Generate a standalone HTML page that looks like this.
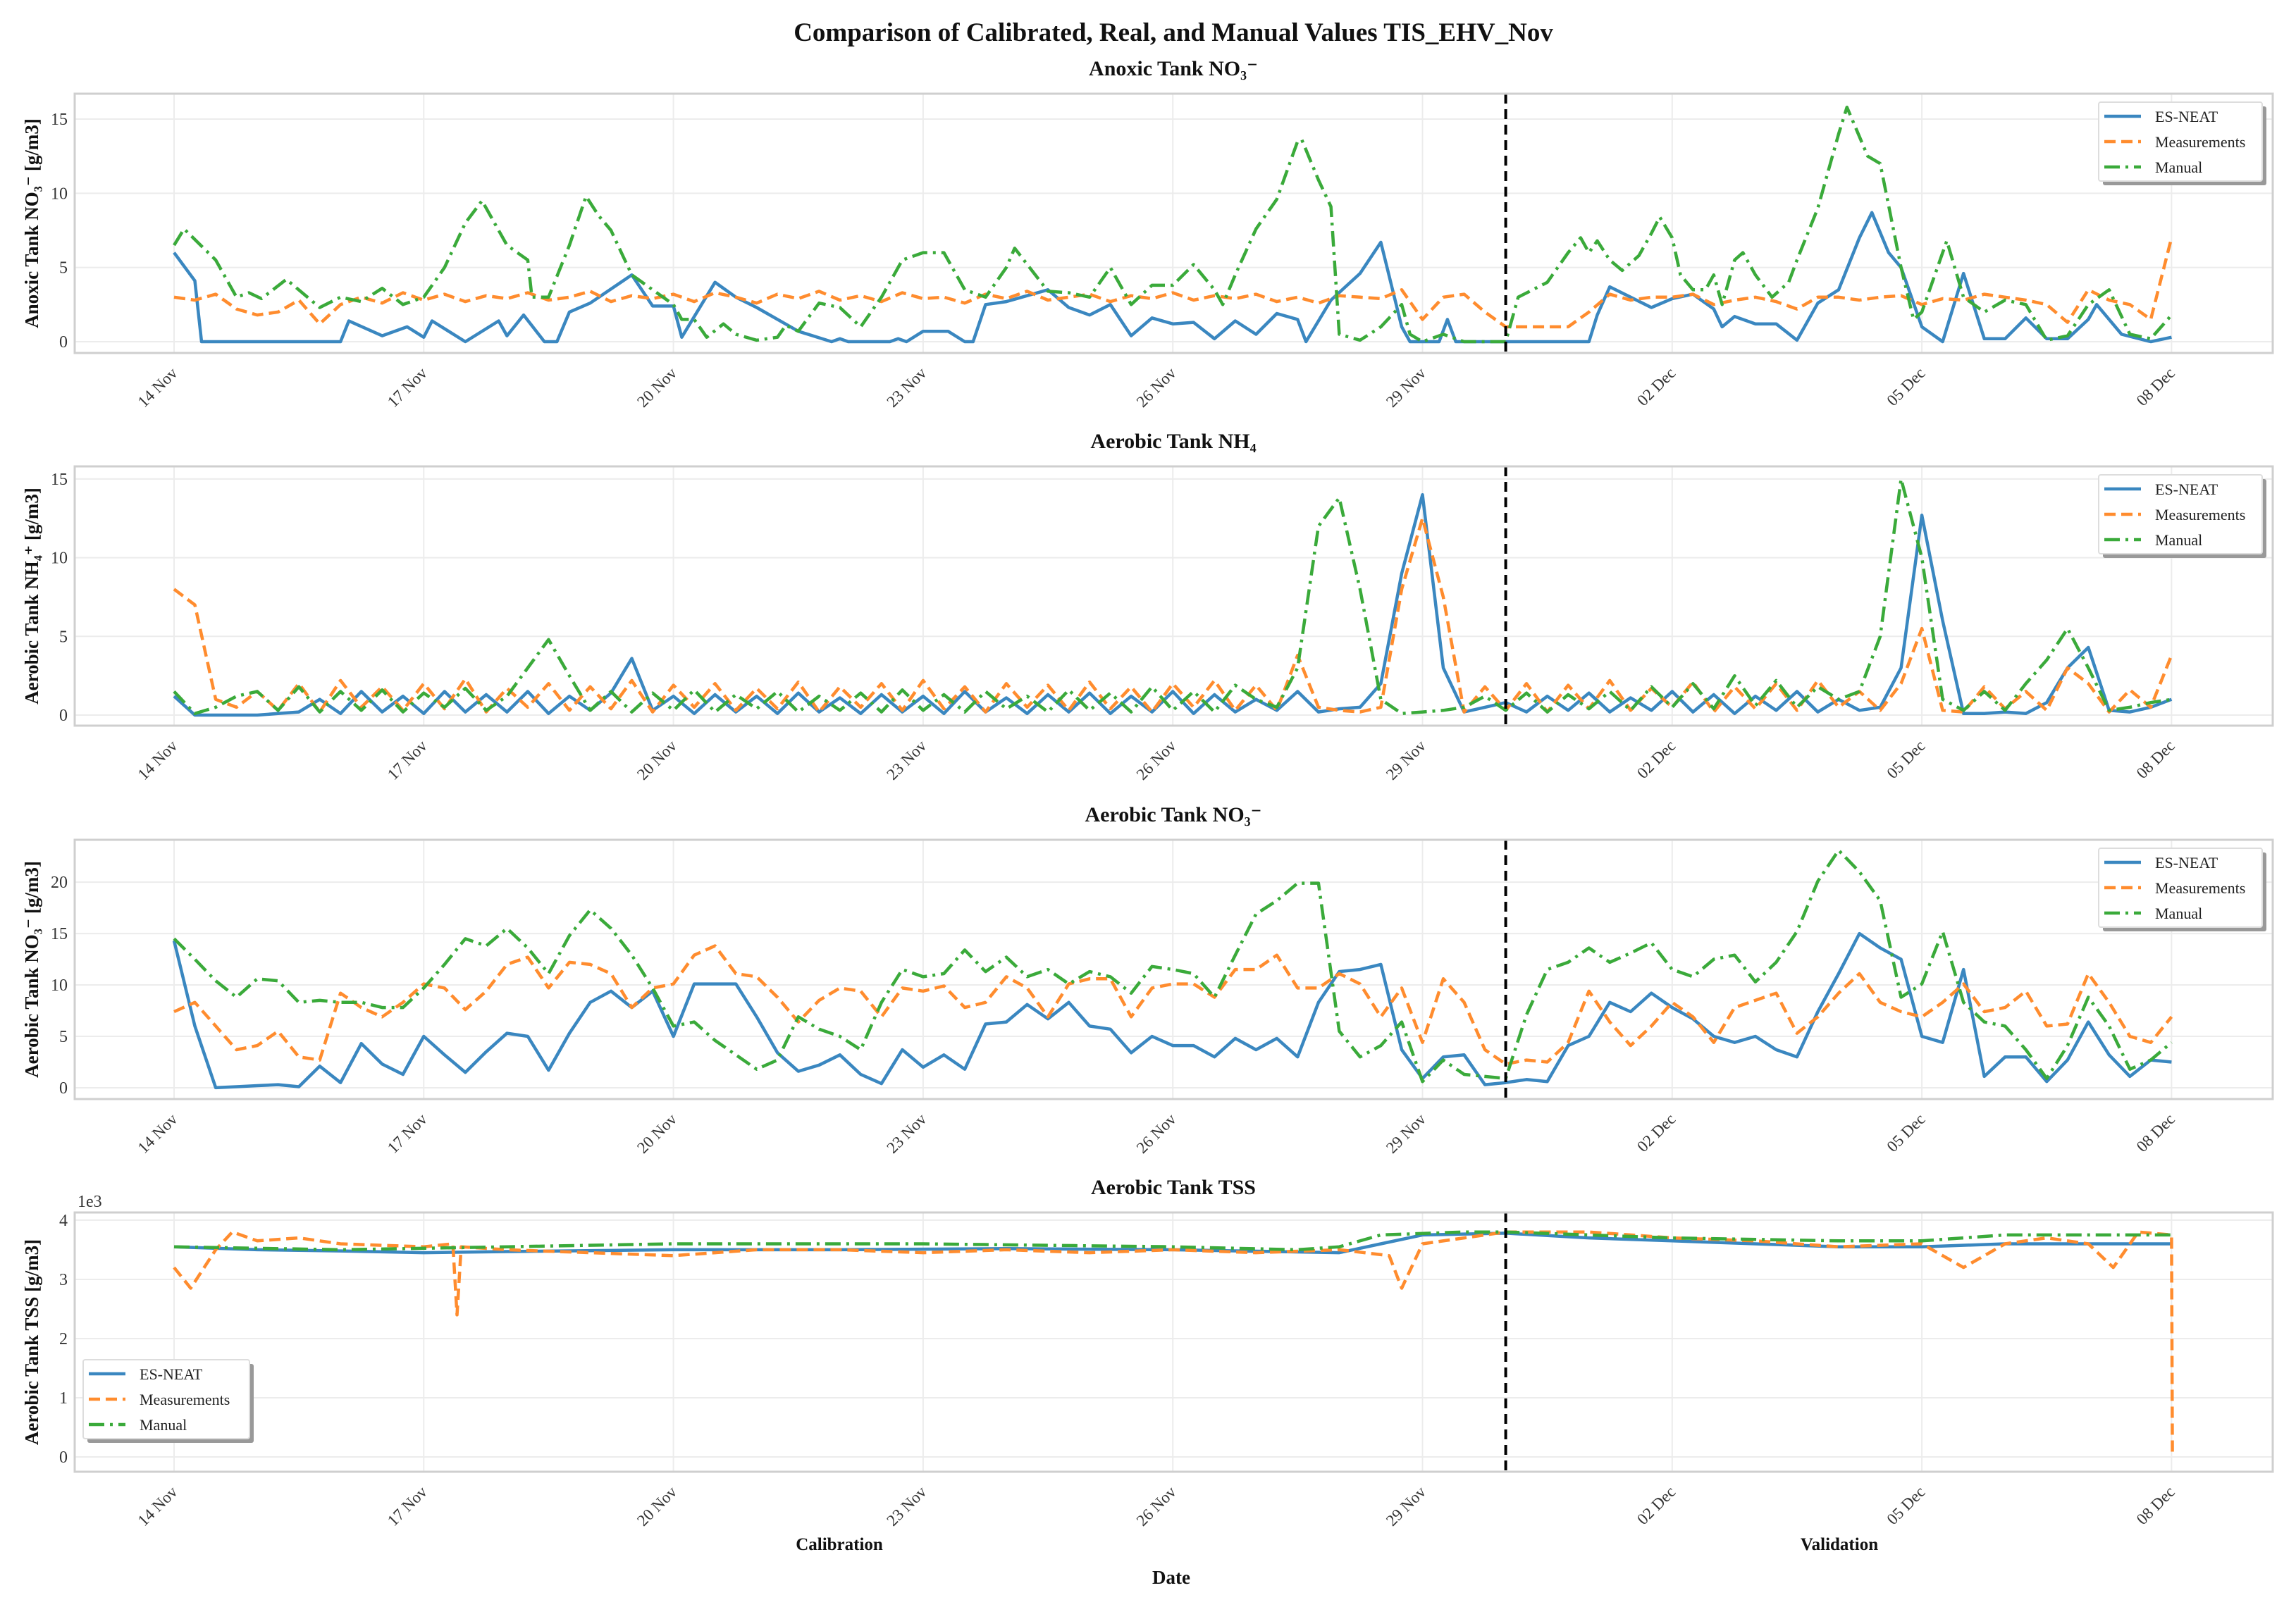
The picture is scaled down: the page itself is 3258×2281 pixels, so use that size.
<!DOCTYPE html>
<html><head><meta charset="utf-8"><title>Comparison chart</title>
<style>
html,body{margin:0;padding:0;background:#fff;}
svg{display:block;font-family:"Liberation Serif","DejaVu Serif",serif;}
</style></head>
<body>
<svg id="chart" width="3258" height="2281" viewBox="0 0 3258 2281" xmlns="http://www.w3.org/2000/svg">
<rect x="0" y="0" width="3258" height="2281" fill="#fff"/>
<text x="1665" y="58" text-anchor="middle" font-size="37" font-weight="bold" fill="#111">Comparison of Calibrated, Real, and Manual Values TIS_EHV_Nov</text>
<text x="1191" y="2200" text-anchor="middle" font-size="25" font-weight="bold" fill="#111">Calibration</text>
<text x="2610" y="2200" text-anchor="middle" font-size="25" font-weight="bold" fill="#111">Validation</text>
<text x="1662" y="2248" text-anchor="middle" font-size="27" font-weight="bold" fill="#111">Date</text>
<text x="110" y="1713" font-size="24" fill="#333">1e3</text>
</svg>
<script>
// ---------- shared categories ----------
const xTickLabels = ["14 Nov","17 Nov","20 Nov","23 Nov","26 Nov","29 Nov","02 Dec","05 Dec","08 Dec"];
const xTickDays = [0,3,6,9,12,15,18,21,24];
const splitDay = [16];
const quarterDays = [];
for (let i = 0; i <= 96; i++) quarterDays.push(i * 0.25);

// ---------- panel 1: Anoxic NO3 ----------
const p1BlueDays = [0,0.25,0.33,2.0,2.1,2.5,2.8,3.0,3.1,3.5,3.9,4.0,4.2,4.45,4.6,4.75,5,5.5,5.75,6,6.1,6.5,6.75,7,7.5,7.9,8.0,8.1,8.6,8.7,8.8,9.0,9.3,9.5,9.6,9.75,10,10.5,10.75,11,11.25,11.5,11.75,12,12.25,12.5,12.75,13,13.25,13.5,13.6,13.9,14.25,14.5,14.75,14.85,15.2,15.3,15.4,17.0,17.1,17.25,17.5,17.75,18,18.25,18.5,18.6,18.75,19,19.25,19.5,19.75,20,20.25,20.4,20.6,20.75,21,21.25,21.5,21.75,22,22.25,22.5,22.75,23,23.1,23.4,23.75,24];
const p1BlueVals = [6.0,4.1,0,0,1.4,0.4,1.0,0.3,1.4,0,1.4,0.4,1.8,0,0,2.0,2.6,4.5,2.4,2.4,0.3,4.0,3.0,2.3,0.7,0,0.2,0,0,0.2,0,0.7,0.7,0,0,2.5,2.7,3.5,2.3,1.8,2.5,0.4,1.6,1.2,1.3,0.2,1.4,0.5,1.9,1.5,0,2.8,4.6,6.7,1.0,0,0,1.5,0,0,1.8,3.7,3.0,2.3,2.9,3.2,2.2,1.0,1.7,1.2,1.2,0.1,2.6,3.5,7.0,8.7,6.0,5.0,1.0,0,4.6,0.2,0.2,1.6,0.2,0.2,1.5,2.5,0.5,0,0.3];
const p1MeasVals = [3.0,2.8,3.2,2.2,1.8,2.0,2.8,1.2,2.5, 3.0,2.6,3.3,2.8,3.2,2.7,3.1,2.9, 3.3,2.8,3.0,3.4,2.7,3.1,2.9,3.2, 2.7,3.3,3.0,2.6,3.2,2.9,3.4,2.8, 3.1,2.7,3.3,2.9,3.0,2.6,3.2,2.9, 3.4,2.8,3.0,3.2,2.7,3.1,2.9,3.3, 2.8,3.1,2.9,3.2,2.7,3.0,2.6,3.1, 3.0,2.9,3.5,1.5,3.0,3.2,2.0,1.0, 1.0,1.0,1.0,2.0,3.2,2.8,3.0,3.0, 3.2,2.5,2.8,3.0,2.7,2.2,3.0,3.0, 2.8,3.0,3.1,2.5,2.9,2.8,3.2,3.0, 2.8,2.5,1.3,3.5,2.8,2.5,1.5,7.0];
const p1ManualDays = [0,0.12,0.5,0.75,0.9,1.05,1.35,1.75,2.0,2.25,2.5,2.75,3,3.25,3.5,3.7,4.0,4.25,4.3,4.5,4.75,4.95,5.1,5.25,5.5,5.75,6,6.1,6.25,6.4,6.6,6.75,7,7.25,7.35,7.5,7.75,8,8.25,8.5,8.75,9,9.25,9.5,9.75,10,10.1,10.5,10.75,11,11.25,11.5,11.75,12,12.25,12.5,12.6,12.75,13,13.25,13.5,13.55,13.75,13.9,14.0,14.25,14.5,14.75,14.85,15,15.25,15.5,16,16.15,16.5,16.75,16.9,17,17.1,17.25,17.4,17.6,17.75,17.85,18,18.1,18.25,18.4,18.5,18.6,18.75,18.85,19,19.2,19.4,19.5,19.75,20,20.1,20.35,20.5,20.75,20.9,21,21.3,21.5,21.75,22,22.25,22.5,22.75,23,23.25,23.5,23.75,24];
const p1ManualVals = [6.5,7.6,5.5,3.0,3.3,2.9,4.2,2.3,3.0,2.7,3.6,2.5,3.0,5.0,8.0,9.5,6.5,5.5,3.0,3.0,6.5,9.8,8.5,7.5,4.5,3.5,2.5,1.5,1.5,0.3,1.2,0.5,0.1,0.3,1.1,0.7,2.6,2.3,1.0,3.0,5.5,6.0,6.0,3.5,3.0,5.0,6.3,3.4,3.3,3.0,5.0,2.5,3.8,3.8,5.2,3.5,2.5,4.5,7.6,9.6,13.5,13.6,10.9,9.1,0.5,0.1,1.0,2.5,0.5,0,0.5,0,0,3.0,4.0,6.0,7.0,6.0,6.8,5.5,4.8,5.8,7.3,8.4,7.0,4.5,3.5,3.5,4.5,2.5,5.5,6.0,4.5,3.0,4.0,5.5,9.0,14.0,15.8,12.5,12.0,5.0,1.5,2.0,6.8,3.0,2.0,2.8,2.5,0.1,0.4,2.5,3.5,0.5,0.2,1.8];
const p1YTicks = [0,5,10,15];

// ---------- panel 2: Aerobic NH4 ----------
const p2BlueVals = [1.2,0,0,0,0,0.1,0.2,1.0,0.1, 1.5,0.2,1.2,0.1,1.5,0.2,1.3,0.2,1.5,0.1,1.2,0.3, 1.4,3.6,0.3,1.2, 0.1,1.3,0.2,1.2,0.1,1.4,0.2,1.1,0.1,1.3,0.2,1.2,0.1,1.5,0.2,1.1,0.1,1.3,0.2,1.4,0.1,1.2,0.2,1.5,0.1,1.3,0.2,1.0, 0.3,1.5,0.2,0.4, 0.5,2,9,14,3,0.2, 0.5,0.8,0.2,1.2,0.3,1.4,0.2,1.1,0.3,1.5,0.2,1.3,0.1,1.2,0.3,1.5,0.2,1.0, 0.3,0.5,3.0,12.7,6.0,0.1, 0.1,0.2,0.1,0.8,3.0,4.3,0.3,0.2,0.5,1.0];
const p2MeasVals = [8.0,7.0,1.0,0.5, 1.5,0.3,2.0,0.2,2.2,0.5,1.8,0.3,2.0,0.4,2.3,0.2,1.7,0.5,2.0,0.3,1.8,0.4,2.2,0.2,1.9,0.5,2.0,0.3,1.7,0.4,2.1,0.2,1.8,0.5,2.0,0.3,2.2,0.4,1.8,0.2,2.0,0.5,1.9,0.3,2.1,0.4,1.8,0.2,2.0,0.5,2.2,0.3,1.9, 0.3,3.8,0.5,0.3, 0.2,0.5,8.0,12.5,7.5,0.2, 1.8,0.3,2.0,0.2,1.9,0.4,2.2,0.3,1.7,0.5,2.1,0.2,1.8,0.4,2.0,0.3,2.2,0.5, 1.5,0.3,2.0,5.5,0.3,0.2, 1.8,0.4,1.5,0.3,3.0,2.0,0.2,1.6,0.5,3.8];
const p2ManualVals = [1.5,0.1,0.5,1.2,1.5,0.3,1.8,0.2,1.5, 0.3,1.6,0.2,1.4,0.5,1.7,0.3,1.2,3.0,4.8,2.5,0.3, 1.5,0.2,1.4,0.3, 1.6,0.2,1.3,0.4,1.5,0.2,1.2,0.3,1.4,0.2,1.6,0.3,1.3,0.2,1.5,0.4,1.2,0.2,1.6,0.3,1.4,0.2,1.8,0.3,1.5,0.2,1.9,1.0, 0.5,3.0,12.0,13.8, 8.0,1.0,0.1,0.2,0.3,0.5, 1.2,0.3,1.4,0.2,1.3,0.4,1.5,0.3,1.8,0.5,2.0,0.4,2.5,0.6,2.2,0.5,1.8,1.0, 1.5,5.0,15.0,10.0,1.0,0.3, 1.5,0.3,2.0,3.5,5.5,3.0,0.3,0.5,0.8,1.0];
const p2YTicks = [0,5,10,15];

// ---------- panel 3: Aerobic NO3 ----------
const p3BlueVals = [14.3,6,0,0.1,0.2,0.3,0.1,2.1,0.5, 4.3,2.3,1.3,5.0,3.2,1.5,3.5,5.3, 5.0,1.7,5.3,8.3,9.4,7.8,9.4,5.0, 10.1,10.1,10.1,6.9,3.4,1.6,2.2,3.2, 1.3,0.4,3.7,2.0,3.2,1.8,6.2,6.4, 8.1,6.7,8.3,6.0,5.7,3.4,5.0,4.1, 4.1,3.0,4.8,3.7,4.8,3.0,8.3,11.3, 11.5,12.0,3.7,0.9,3.0,3.2,0.3,0.5, 0.8,0.6,4.1,5.0,8.3,7.4,9.2,7.8, 6.7,5.0,4.4,5.0,3.7,3.0,7.4,11.1, 15.0,13.6,12.5,5.0,4.4,11.5,1.1,3.0, 3.0,0.6,2.7,6.4,3.2,1.1,2.7,2.5];
const p3MeasVals = [7.4,8.3,6.0,3.7,4.1,5.5,3.0,2.7,9.2, 7.8,6.9,8.3,10.1,9.7,7.6,9.4,12.0, 12.7,9.7,12.2,12.0,11.1,7.8,9.7,10.1, 12.9,13.8,11.1,10.8,8.8,6.4,8.5,9.7, 9.4,6.9,9.7,9.4,9.9,7.8,8.3,10.8, 9.7,6.9,10.1,10.6,10.6,6.9,9.7,10.1, 10.1,8.8,11.5,11.5,12.9,9.7,9.7,11.1, 10.1,6.9,9.7,4.4,10.6,8.3,3.7,2.3, 2.7,2.5,4.4,9.4,6.4,4.1,6.0,8.3, 6.9,4.4,7.8,8.5,9.2,5.3,6.9,9.2, 11.1,8.3,7.4,6.9,8.3,10.1,7.4,7.8, 9.4,6.0,6.2,11.1,8.3,5.0,4.4,6.9];
const p3ManualVals = [14.5,12.5,10.4,8.8,10.6,10.4,8.3,8.5,8.3, 8.3,7.8,7.8,9.7,12.0,14.5,13.8,15.5, 13.6,11.1,14.8,17.3,15.5,12.9,9.7,6.0, 6.4,4.6,3.2,1.8,2.7,6.9,5.7,5.0, 3.7,8.3,11.5,10.8,11.1,13.4,11.3,12.7, 10.8,11.5,10.1,11.3,10.8,9.2,11.8,11.5, 11.1,8.8,12.9,16.9,18.2,19.9,19.9,5.5, 3.0,4.1,6.4,0.6,2.7,1.3,1.1,0.9, 7.1,11.5,12.2,13.6,12.2,13.1,14.1,11.5, 10.8,12.5,12.9,10.3,12.2,15.2,20.1,23.1, 21.0,18.2,8.8,10.1,15.2,8.3,6.4,6.0, 3.7,0.9,4.1,8.8,6.0,1.8,2.7,4.4];
const p3YTicks = [0,5,10,15,20];

// ---------- panel 4: Aerobic TSS (x1e3) ----------
const p4BlueDays = [0,1,2,3,4,6,8,10,12,14,14.5,15,16,17,18,19,20,21,22,23,24];
const p4BlueVals = [3.55,3.5,3.48,3.45,3.47,3.5,3.5,3.52,3.5,3.45,3.6,3.75,3.78,3.7,3.65,3.6,3.55,3.55,3.6,3.6,3.6];
const p4ManualDays = [0,2,4,6,9,12,13.5,14,14.5,15.5,16,18,20,21,22,24];
const p4ManualVals = [3.55,3.5,3.55,3.6,3.6,3.55,3.5,3.55,3.75,3.8,3.8,3.7,3.65,3.65,3.75,3.75];
const p4MeasDays = [0,0.2,0.5,0.7,1,1.5,2,3,3.35,3.4,3.45,4,5,6,7,8,9,10,11,12,13,14,14.6,14.75,15,15.5,16,17,17.5,18,19,20,21,21.5,22,22.5,23,23.3,23.6,24,24.01];
const p4MeasVals = [3.2,2.85,3.5,3.8,3.65,3.7,3.6,3.55,3.6,2.4,3.55,3.5,3.45,3.4,3.5,3.5,3.45,3.5,3.45,3.5,3.45,3.5,3.4,2.85,3.6,3.7,3.8,3.8,3.75,3.7,3.65,3.55,3.6,3.2,3.6,3.7,3.6,3.2,3.8,3.75,0];
const p4YTicks = [0,1,2,3,4];

// ---------- layout ----------
const NS = "http://www.w3.org/2000/svg";
const svg = document.getElementById("chart");
const AX_L = 106, AX_R = 3225, AX_H = 368;
const X0 = 247, PX_PER_DAY = 118.1;
const C_BLUE = "#3a87c0", C_ORANGE = "#ff8c2e", C_GREEN = "#3aaa3a";
function xOf(d) { return X0 + d * PX_PER_DAY; }
function mk(tag, attrs, parent) {
  const el = document.createElementNS(NS, tag);
  for (const k in attrs) el.setAttribute(k, attrs[k]);
  (parent || svg).appendChild(el);
  return el;
}
function makeY(top, ymin, ymax) {
  return function (v) { return top + AX_H - (v - ymin) / (ymax - ymin) * AX_H; };
}
function pathFrom(days, vals, yOf) {
  let s = "";
  for (let i = 0; i < vals.length; i++) s += (i ? "L" : "M") + xOf(days[i]).toFixed(1) + "," + yOf(vals[i]).toFixed(1);
  return s;
}

const panels = [
  { top: 133, ymin: -0.76, ymax: 16.71, title: "Anoxic Tank NO₃⁻", ylab: "Anoxic Tank NO₃⁻ [g/m3]", ticks: p1YTicks, legend: "right",
    series: [[p1BlueDays, p1BlueVals, "blue"], [quarterDays, p1MeasVals, "orange"], [p1ManualDays, p1ManualVals, "green"]] },
  { top: 662, ymin: -0.67, ymax: 15.8, title: "Aerobic Tank NH₄", ylab: "Aerobic Tank NH₄⁺ [g/m3]", ticks: p2YTicks, legend: "right",
    series: [[quarterDays, p2BlueVals, "blue"], [quarterDays, p2MeasVals, "orange"], [quarterDays, p2ManualVals, "green"]] },
  { top: 1192, ymin: -1.1, ymax: 24.12, title: "Aerobic Tank NO₃⁻", ylab: "Aerobic Tank NO₃⁻ [g/m3]", ticks: p3YTicks, legend: "right",
    series: [[quarterDays, p3BlueVals, "blue"], [quarterDays, p3MeasVals, "orange"], [quarterDays, p3ManualVals, "green"]] },
  { top: 1721, ymin: -0.25, ymax: 4.13, title: "Aerobic Tank TSS", ylab: "Aerobic Tank TSS [g/m3]", ticks: p4YTicks, legend: "left",
    series: [[p4BlueDays, p4BlueVals, "blue"], [p4MeasDays, p4MeasVals, "orange"], [p4ManualDays, p4ManualVals, "green"]] }
];
const styles = {
  blue:   { color: C_BLUE, dash: "none" },
  orange: { color: C_ORANGE, dash: "16,8" },
  green:  { color: C_GREEN, dash: "22,8,4,8" }
};
const seriesNames = { blue: "es-neat-line", orange: "measurements-line", green: "manual-line" };
const legendLabels = ["ES-NEAT", "Measurements", "Manual"];
const legendKeys = ["blue", "orange", "green"];

panels.forEach(function (p, pi) {
  const g = mk("g", {});
  
  
  const yOf = makeY(p.top, p.ymin, p.ymax);
  const bottom = p.top + AX_H;

  const t = mk("text", { x: 1665, y: p.top - 26, "text-anchor": "middle", "font-size": 30, "font-weight": "bold", fill: "#111" }, g);
  t.textContent = p.title;
  
  

  // grid
  xTickDays.forEach(function (d, i) {
    const gl = mk("line", { x1: xOf(d), x2: xOf(d), y1: p.top, y2: bottom, stroke: "#ececec", "stroke-width": 2 }, g);
    
    
    const tx = xOf(d) + 6, ty = bottom + 30;
    const lab = mk("text", { x: tx, y: ty, "text-anchor": "end", "font-size": 23, fill: "#333", transform: "rotate(-45 " + tx + " " + ty + ")" }, g);
    lab.textContent = xTickLabels[i];
    
    
  });
  p.ticks.forEach(function (v) {
    const gl = mk("line", { x1: AX_L, x2: AX_R, y1: yOf(v), y2: yOf(v), stroke: "#ececec", "stroke-width": 2 }, g);
    
    
    const lab = mk("text", { x: 96, y: yOf(v) + 8, "text-anchor": "end", "font-size": 24, fill: "#333" }, g);
    lab.textContent = String(v);
    
    
  });

  // y axis title
  const cy = p.top + AX_H / 2;
  const yl = mk("text", { x: 48, y: cy, "text-anchor": "middle", "font-size": 27, "font-weight": "bold", fill: "#111", transform: "rotate(-90 48 " + cy + ")", "dominant-baseline": "middle" }, g);
  yl.textContent = p.ylab;
  
  

  // series
  const clipId = "clip" + pi;
  const cp = mk("clipPath", { id: clipId }, g);
  mk("rect", { x: AX_L, y: p.top, width: AX_R - AX_L, height: AX_H }, cp);
  p.series.forEach(function (s) {
    const st = styles[s[2]];
    const path = mk("path", { d: pathFrom(s[0], s[1], yOf), fill: "none", stroke: st.color, "stroke-width": 4.5, "stroke-dasharray": st.dash, "stroke-linejoin": "round", "clip-path": "url(#" + clipId + ")" }, g);
    
    
  });

  // split line
  const sl = mk("line", { x1: xOf(splitDay[0]), x2: xOf(splitDay[0]), y1: p.top, y2: bottom, stroke: "#000", "stroke-width": 4, "stroke-dasharray": "14,8" }, g);
  
  

  // frame
  const fr = mk("rect", { x: AX_L, y: p.top, width: AX_R - AX_L, height: AX_H, fill: "none", stroke: "#cfcfcf", "stroke-width": 3 }, g);
  
  

  // legend
  const lx = p.legend === "right" ? 2978 : 118;
  const ly = p.legend === "right" ? p.top + 12 : 1930;
  const lw = p.legend === "right" ? 232 : 236;
  const lg = mk("g", {}, g);
  
  
  mk("rect", { x: lx + 6, y: ly + 6, width: lw, height: 112, fill: "#999", rx: 3 }, lg);
  mk("rect", { x: lx, y: ly, width: lw, height: 112, fill: "#fff", stroke: "#ddd", "stroke-width": 2, rx: 3 }, lg);
  legendKeys.forEach(function (k, i) {
    const yy = ly + 20 + i * 36;
    const ln = mk("line", { x1: lx + 8, x2: lx + 60, y1: yy, y2: yy, stroke: styles[k].color, "stroke-width": 4.5, "stroke-dasharray": styles[k].dash }, lg);
    
    
    const lt = mk("text", { x: lx + 80, y: yy + 8, "font-size": 22, fill: "#222" }, lg);
    lt.textContent = legendLabels[i];
    
    
  });
});
</script>
</body></html>
